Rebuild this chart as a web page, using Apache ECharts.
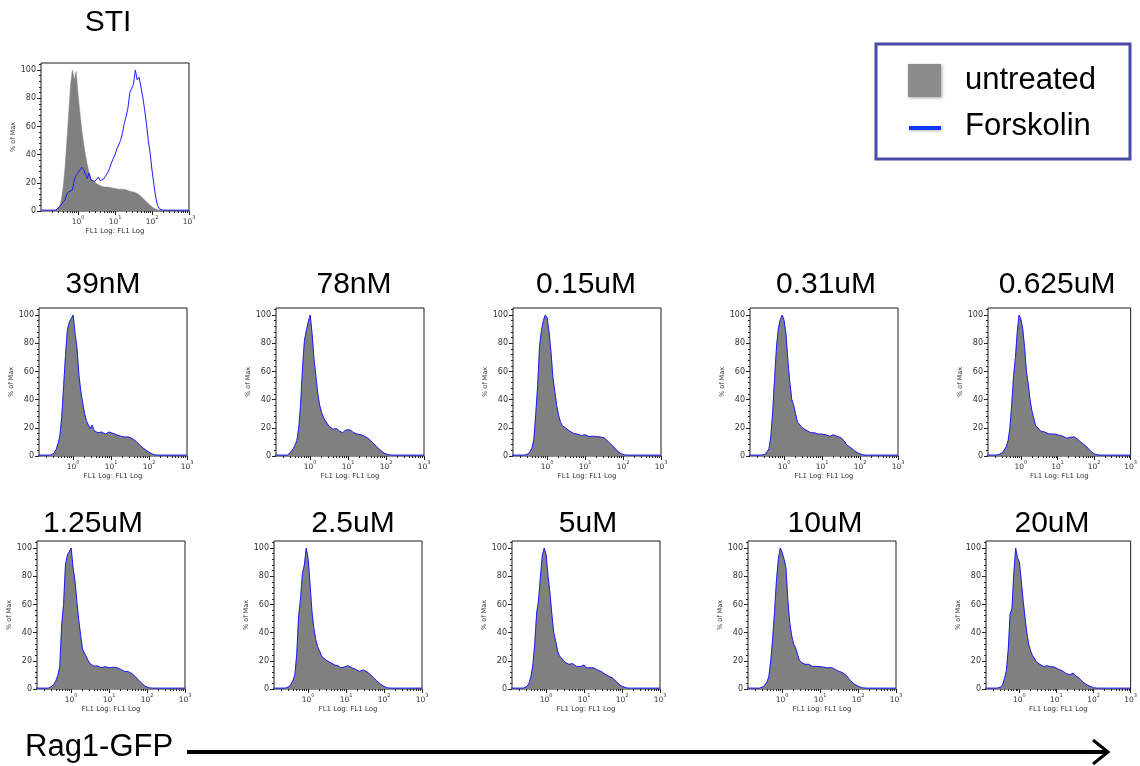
<!DOCTYPE html>
<html>
<head>
<meta charset="utf-8">
<title>Rag1-GFP histograms</title>
<script src="https://cdn.jsdelivr.net/npm/echarts@6/dist/echarts.min.js"></script>
<style>
  html, body { margin: 0; padding: 0; background: #fff; }
  #chart { width: 1140px; height: 766px; }
</style>
</head>
<body>
<div id="chart"></div>
<script>
// FL1 (Rag1-GFP) bin centres, in log10 units
const fl1Log = [
  -1.0, -0.95, -0.9, -0.85, -0.8, -0.75, -0.7, -0.65, -0.6, -0.55,
  -0.5, -0.45, -0.4, -0.35, -0.3, -0.25, -0.2, -0.15, -0.1, -0.05,
  0, 0.05, 0.1, 0.15, 0.2, 0.25, 0.3, 0.35, 0.4, 0.45,
  0.5, 0.55, 0.6, 0.65, 0.7, 0.75, 0.8, 0.85, 0.9, 0.95,
  1.0, 1.05, 1.1, 1.15, 1.2, 1.25, 1.3, 1.35, 1.4, 1.45,
  1.5, 1.55, 1.6, 1.65, 1.7, 1.75, 1.8, 1.85, 1.9, 1.95,
  2.0, 2.05, 2.1, 2.15, 2.2, 2.25, 2.3, 2.35, 2.4, 2.6, 2.8, 3.0
];

// tick labels
const decadeTicks = [0, 1, 2, 3];          // 10^0 .. 10^3
const percentTicks = [0, 20, 40, 60, 80, 100];

// STI panel: % of max per bin
const stiUntreated = [
  0.3, 0.3, 0.3, 0.3, 0.3, 0.3, 0.3, 0.3, 0.5, 1,
  3, 8, 17, 31, 50, 70, 90, 100, 93, 99,
  83, 70, 58, 48, 40, 33, 27, 23, 21.5, 20.5,
  19.5, 18.5, 18, 17.5, 17, 17, 17, 16.5, 16.5, 16,
  16, 15.5, 15.5, 15.5, 15.5, 16.5, 15, 14, 14, 13.5,
  13.5, 13, 12.5, 11.5, 10.5, 9, 8, 6.5, 5.4, 4,
  3, 2, 1.4, 0.9, 0.6, 0.3, 0.3, 0.3, 0.3, 0.3, 0.3, 0.3
];
const stiForskolin = [
  0.6, 0.6, 0.6, 0.6, 0.6, 0.6, 0.6, 0.6, 0.7, 1,
  3, 4.5, 5.5, 8, 12, 13.5, 13, 15, 22, 25.5,
  27, 27, 31, 29.5, 29, 23, 27, 22, 21, 21,
  22, 24, 21.5, 22, 23, 25, 27, 30, 34, 37,
  40, 44, 44, 50, 55, 62, 67, 73, 84, 87,
  90, 100, 93, 95, 88, 81, 72, 62, 50, 41,
  29, 19, 10, 4, 1.5, 0.7, 0.6, 0.6, 0.6, 0.6, 0.6, 0.6
];

// dose panels
const doseLabels = ['39nM', '78nM', '0.15uM', '0.31uM', '0.625uM',
                    '1.25uM', '2.5uM', '5uM', '10uM', '20uM'];

const hist39nM = [
  0.6, 0.6, 0.6, 0.6, 0.6, 0.6, 0.6, 0.6, 0.6, 1,
  2, 4.5, 8.5, 14, 28, 50, 72, 90, 95, 95,
  100, 87, 77, 58, 46, 38, 30, 25, 22, 19.5,
  22, 18, 17, 16.5, 16, 17, 16.5, 15.5, 16, 17,
  16.5, 16, 16, 15, 14.5, 14, 13, 13.5, 14, 13.5,
  13, 12.5, 11.5, 10.5, 9.5, 8, 7, 5.5, 4.5, 3.5,
  2.5, 1.8, 1.2, 0.8, 0.6, 0.6, 0.6, 0.6, 0.6, 0.6, 0.6, 0.6
];
const hist78nM = [
  0.6, 0.6, 0.6, 0.6, 0.6, 0.6, 0.6, 0.6, 0.6, 1.5,
  3, 5, 7.5, 11, 20, 37, 63, 82, 89, 95,
  100, 87, 69, 57, 44, 36, 31, 27.5, 25, 23,
  21, 21.5, 19, 18.5, 19.5, 18, 17, 16.5, 17, 18.5,
  19, 18.5, 17.5, 16.5, 16, 15.5, 15, 15, 14.3, 13.8,
  13.2, 12, 11, 9.5, 8.5, 6.7, 5.5, 4.2, 3, 2,
  1.3, 0.9, 0.6, 0.6, 0.6, 0.6, 0.6, 0.6, 0.6, 0.6, 0.6, 0.6
];
const hist015uM = [
  0.6, 0.6, 0.6, 0.6, 0.6, 0.6, 0.6, 0.6, 0.6, 0.8,
  1.5, 3, 5.5, 12, 30, 50, 78, 89, 96, 100,
  98, 88, 74, 56, 46, 36, 29, 24, 21.5, 20.5,
  19.5, 18.5, 17.5, 16.5, 16, 15.7, 15.5, 15, 14.5, 14.3,
  15, 14.5, 13.8, 14.3, 14, 13.8, 13.8, 13.8, 13.5, 13.3,
  12.8, 12, 10.5, 9, 7.8, 6.5, 5, 3.5, 2.5, 1.6,
  1, 0.7, 0.6, 0.6, 0.6, 0.6, 0.6, 0.6, 0.6, 0.6, 0.6, 0.6
];
const hist031uM = [
  0.6, 0.6, 0.6, 0.6, 0.6, 0.6, 0.6, 0.6, 0.6, 0.8,
  1.2, 2, 5, 14, 32, 56, 78, 91, 97, 100,
  96, 86, 67, 52, 40, 36, 30, 24, 22.5, 21,
  19.5, 18.6, 18, 17.2, 16.5, 17, 16.5, 15.5, 15.5, 16,
  15.5, 15, 15, 14.8, 14, 14.5, 15, 14.2, 13.8, 13.8,
  13, 11.8, 10, 7.8, 7, 6, 5, 3.8, 2.8, 2,
  1.4, 1, 0.7, 0.6, 0.6, 0.6, 0.6, 0.6, 0.6, 0.6, 0.6, 0.6
];
const hist0625uM = [
  0.6, 0.6, 0.6, 0.6, 0.6, 0.6, 0.6, 0.6, 1, 1.5,
  2.5, 3.5, 6.5, 11, 20, 37, 57, 70, 88, 100,
  97, 90, 77, 60, 51, 40, 32, 27, 21.5, 20.5,
  19, 17.5, 17.5, 17, 16.5, 15.8, 15.3, 15.5, 16, 15.5,
  15, 14.7, 14.3, 14, 13.2, 12.6, 13, 13.3, 13.5, 13.5,
  13, 12, 10.5, 9.5, 8.6, 7.5, 6.5, 5, 3.5, 2.2,
  1.5, 1.1, 0.8, 0.6, 0.6, 0.6, 0.6, 0.6, 0.6, 0.6, 0.6, 0.6
];
const hist125uM = [
  0.6, 0.6, 0.6, 0.6, 0.6, 0.6, 0.6, 0.6, 0.6, 1.2,
  2, 3.5, 6, 9.5, 16, 45, 60, 88, 95, 96,
  100, 86, 77, 62, 49, 38, 28, 25.5, 25.5, 20,
  17.8, 17, 16.2, 16, 16.4, 16, 15, 15.5, 15.9, 15.5,
  15, 15.2, 15.4, 15.4, 15.2, 15, 14, 13.5, 12.5, 12.3,
  12.3, 11.8, 11, 9.8, 8.5, 7, 5.8, 4.3, 3, 2,
  1.3, 0.8, 0.6, 0.6, 0.6, 0.6, 0.6, 0.6, 0.6, 0.6, 0.6, 0.6
];
const hist25uM = [
  0.6, 0.6, 0.6, 0.6, 0.6, 0.6, 0.6, 0.6, 0.6, 1,
  1.7, 3.5, 6, 10, 25, 52, 64, 82, 88, 100,
  92, 74, 55, 43, 35, 30, 27, 23.5, 22, 21,
  20, 19.5, 18.5, 17.5, 17, 16, 16.5, 15, 14.5, 15.5,
  16, 16.5, 16, 15, 14.5, 14, 13.5, 12.5, 13, 13.5,
  12.8, 12.2, 11.5, 10, 8.8, 7.5, 6, 4.8, 3.6, 2.7,
  1.8, 1.2, 0.7, 0.6, 0.6, 0.6, 0.6, 0.6, 0.6, 0.6, 0.6, 0.6
];
const hist5uM = [
  0.6, 0.6, 0.6, 0.6, 0.6, 0.6, 0.6, 0.6, 0.6, 1,
  2, 4, 8.8, 17, 32, 54, 63, 80, 95, 100,
  95, 80, 68, 53, 40, 34, 27, 23.5, 22, 20.5,
  19, 18, 17.5, 18, 18, 17, 16, 15.5, 16, 15.8,
  17, 15, 16, 15, 15.5, 15, 14, 13.5, 13.5, 12.5,
  11.6, 10.5, 9.8, 9, 8.5, 7.8, 6.5, 5.2, 3.8, 2.6,
  2, 1.4, 0.9, 0.6, 0.6, 0.6, 0.6, 0.6, 0.6, 0.6, 0.6, 0.6
];
const hist10uM = [
  0.6, 0.6, 0.6, 0.6, 0.6, 0.6, 0.6, 0.6, 0.6, 1,
  1.5, 2.5, 4.8, 9, 20, 36, 55, 77, 92, 100,
  97, 92, 86, 63, 47, 38, 32, 29.5, 25, 20.6,
  19, 18, 17.5, 18.5, 17.5, 16.5, 16, 16, 16, 16,
  15.8, 15.5, 15.5, 16, 15, 14.7, 15.2, 15, 13.8, 13,
  12.5, 12.2, 11.5, 10.5, 9.4, 7.5, 6, 4.8, 3.5, 2.8,
  2, 1.3, 0.9, 0.6, 0.6, 0.6, 0.6, 0.6, 0.6, 0.6, 0.6, 0.6
];
const hist20uM = [
  0.6, 0.6, 0.6, 0.6, 0.6, 0.6, 0.6, 0.6, 0.6, 0.8,
  1.4, 3, 7.5, 13, 28, 53, 57, 82, 100, 93,
  90, 77, 63, 51, 40, 32, 27, 24, 22, 19.4,
  18.3, 17.5, 16.5, 16, 16.2, 16.4, 16, 15.8, 16, 15.5,
  14.7, 14, 13.5, 13, 12, 11.2, 12.3, 10, 10.5, 11.3,
  9.5, 8.5, 8, 7, 5.2, 4.2, 3.2, 2.6, 2, 1.4,
  0.9, 0.6, 0.6, 0.6, 0.6, 0.6, 0.6, 0.6, 0.6, 0.6, 0.6, 0.6
];
const doseHists = [hist39nM, hist78nM, hist015uM, hist031uM, hist0625uM,
                   hist125uM, hist25uM, hist5uM, hist10uM, hist20uM];

// ---- layout of the panels ----
const SIZE = 148;
const GRAY = '#808080';
const BLUE = '#1c1cff';
const TITLE_FONT = '30px "Liberation Sans", Arial, Helvetica, sans-serif';
const AXIS_FONT = '"DejaVu Sans", Verdana, sans-serif';

const rowLefts = [[39, 276, 513, 750, 988], [37, 274, 512, 748, 986]];
const rowTops = [308, 541];
const titleCentres = [[103, 354, 586, 826, 1057], [93, 353, 588, 825, 1052]];
const titleMiddles = [284.5, 524];

const panels = [{
  title: 'STI', left: 41, top: 63, xMin: -1.0, tx: 108, ty: 22.5,
  fill: { name: 'untreated', values: stiUntreated },
  line: { name: 'Forskolin', values: stiForskolin }
}];
doseLabels.forEach((label, k) => {
  const r = k < 5 ? 0 : 1, c = k % 5;
  panels.push({
    title: label, left: rowLefts[r][c], top: rowTops[r], xMin: -0.9,
    tx: titleCentres[r][c], ty: titleMiddles[r],
    fill: { name: label, values: doseHists[k] },
    line: { name: label, values: doseHists[k] }
  });
});

// minor ticks of a log10 axis (2..9 within each decade)
function logMinorTicks(min) {
  const out = [];
  for (let d = -1; d < 3; d++) {
    for (let k = 2; k <= 9; k++) {
      const v = d + Math.log10(k);
      if (v > min) out.push(+v.toFixed(4));
    }
  }
  return out;
}
const percentMinor = [];
for (let v = 4; v <= 104; v += 4) if (v % 20 !== 0) percentMinor.push(v);

const grid = [], xAxis = [], yAxis = [], series = [], graphic = [];
const tickLine = { color: '#222', width: 1 };

panels.forEach((p, i) => {
  grid.push({
    left: p.left, top: p.top, width: SIZE, height: SIZE,
    show: true, borderColor: '#1a1a1a', borderWidth: 1, backgroundColor: '#fff'
  });
  const xi = xAxis.length, yi = yAxis.length;
  xAxis.push({
    gridIndex: i, type: 'value', min: p.xMin, max: 3, position: 'bottom',
    axisLine: { show: false, onZero: false }, splitLine: { show: false },
    axisTick: { customValues: decadeTicks, length: 4, lineStyle: tickLine },
    axisLabel: {
      customValues: decadeTicks, margin: 4,
      formatter: v => '{b|10}{s|' + v + '}',
      rich: {
        b: { fontSize: 7.5, fontFamily: AXIS_FONT, color: '#333', verticalAlign: 'bottom', lineHeight: 11 },
        s: { fontSize: 5, fontFamily: AXIS_FONT, color: '#333', verticalAlign: 'top', lineHeight: 5 }
      }
    },
    name: 'FL1 Log: FL1 Log', nameLocation: 'middle', nameGap: 17,
    nameTextStyle: { fontSize: 7, fontFamily: AXIS_FONT, color: '#333' }
  });
  xAxis.push({
    gridIndex: i, type: 'value', min: p.xMin, max: 3, position: 'bottom',
    axisLine: { show: false, onZero: false }, splitLine: { show: false },
    axisLabel: { show: false },
    axisTick: { customValues: logMinorTicks(p.xMin), length: 2, lineStyle: tickLine }
  });
  yAxis.push({
    gridIndex: i, type: 'value', min: 0, max: 105, position: 'left',
    axisLine: { show: false, onZero: false }, splitLine: { show: false },
    axisTick: { customValues: percentTicks, length: 4, lineStyle: tickLine },
    axisLabel: { customValues: percentTicks, margin: 5, fontSize: 8, fontFamily: AXIS_FONT, color: '#333' },
    name: '% of Max', nameLocation: 'middle', nameGap: 21, nameRotate: 90,
    nameTextStyle: { fontSize: 6.5, fontFamily: AXIS_FONT, color: '#333' }
  });
  yAxis.push({
    gridIndex: i, type: 'value', min: 0, max: 105, position: 'left',
    axisLine: { show: false, onZero: false }, splitLine: { show: false },
    axisLabel: { show: false },
    axisTick: { customValues: percentMinor, length: 2, lineStyle: tickLine }
  });

  series.push({
    type: 'line', name: p.fill.name, xAxisIndex: xi, yAxisIndex: yi,
    data: fl1Log.map((x, j) => [x, p.fill.values[j]]),
    symbol: 'none', silent: true,
    lineStyle: { color: GRAY, width: 0.5 },
    areaStyle: { color: GRAY, opacity: 1 }
  });
  series.push({
    type: 'line', name: p.line.name, xAxisIndex: xi, yAxisIndex: yi,
    data: fl1Log.map((x, j) => [x, p.line.values[j]]),
    symbol: 'none', silent: true,
    lineStyle: { color: BLUE, width: 1 }
  });

  graphic.push({
    type: 'text', silent: true,
    style: { x: p.tx, y: p.ty, text: p.title, font: TITLE_FONT, fill: '#000',
             align: 'center', verticalAlign: 'middle', textAlign: 'center', textVerticalAlign: 'middle' }
  });
});

// key
graphic.push(
  { type: 'rect', silent: true, shape: { x: 876, y: 44, width: 254, height: 115 },
    style: { fill: '#fff', stroke: '#4a4aa6', lineWidth: 3 } },
  { type: 'rect', silent: true, shape: { x: 908, y: 64, width: 33, height: 33 },
    style: { fill: '#8c8c8c', shadowBlur: 3, shadowColor: 'rgba(0,0,0,0.35)', shadowOffsetX: 1, shadowOffsetY: 1 } },
  { type: 'rect', silent: true, shape: { x: 909, y: 126, width: 32, height: 4 },
    style: { fill: '#1436ff', shadowBlur: 3, shadowColor: 'rgba(0,0,0,0.3)', shadowOffsetX: 1, shadowOffsetY: 1 } },
  { type: 'text', silent: true,
    style: { x: 965, y: 80, text: 'untreated', font: '31px "Liberation Sans", Arial, sans-serif', fill: '#000',
             verticalAlign: 'middle', textVerticalAlign: 'middle' } },
  { type: 'text', silent: true,
    style: { x: 965, y: 126, text: 'Forskolin', font: '31px "Liberation Sans", Arial, sans-serif', fill: '#000',
             verticalAlign: 'middle', textVerticalAlign: 'middle' } }
);

// Rag1-GFP direction arrow
graphic.push(
  { type: 'text', silent: true,
    style: { x: 25, y: 747, text: 'Rag1-GFP', font: '31px "Liberation Sans", Arial, sans-serif', fill: '#000',
             verticalAlign: 'middle', textVerticalAlign: 'middle' } },
  { type: 'line', silent: true, shape: { x1: 187, y1: 752, x2: 1106, y2: 752 },
    style: { stroke: '#000', lineWidth: 4 } },
  { type: 'polyline', silent: true, shape: { points: [[1093, 740], [1108, 752], [1093, 764]] },
    style: { stroke: '#000', lineWidth: 3, fill: null } }
);

const chart = echarts.init(document.getElementById('chart'), null, { renderer: 'canvas' });
chart.setOption({
  animation: false,
  backgroundColor: '#fff',
  grid, xAxis, yAxis, series, graphic
});
</script>
</body>
</html>
